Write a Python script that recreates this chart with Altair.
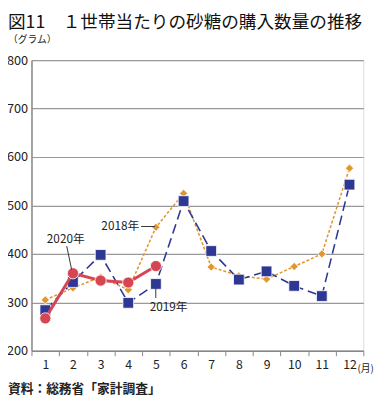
import altair as alt
import pandas as pd

months = [str(m) for m in range(1, 13)]
v2018 = [305, 330, 352, 326, 455, 525, 373, 355, 348, 374, 400, 577]
v2019 = [284, 342, 398, 299, 338, 509, 406, 347, 364, 334, 313, 543]
v2020 = [267, 360, 345, 341, 375]
y_ticks = [200, 300, 400, 500, 600, 700, 800]

rows = []
for s, vals in [("2018年", v2018), ("2019年", v2019), ("2020年", v2020)]:
    for m, v in zip(months, vals):
        rows.append({"month": m, "value": v, "series": s})
df = pd.DataFrame(rows)

FONT = "Noto Sans CJK JP"
W, H = 339, 297

x_enc = alt.X("month:N", sort=months,
              scale=alt.Scale(type="band", paddingInner=0, paddingOuter=0),
              axis=alt.Axis(title=None, labelAngle=0, tickBand="extent", tickSize=5,
                            tickColor="#888888", domainColor="#888888", domainWidth=1.5,
                            labelPadding=3, labelFontSize=12.5, labelColor="#222222",
                            labelFont=FONT, grid=False))
y_enc = alt.Y("value:Q", scale=alt.Scale(domain=[200, 800], nice=False),
              axis=alt.Axis(title=None, values=y_ticks, ticks=False, labelPadding=4,
                            labelFontSize=13, labelColor="#222222", labelFont=FONT,
                            domainColor="#888888", domainWidth=1.5,
                            gridColor="#999999", gridWidth=1.2))

def series_layer(name, color, dash, width, shape, size):
    d = df[df.series == name]
    base = alt.Chart(d).encode(x=x_enc, y=y_enc)
    line = base.mark_line(color=color, strokeDash=dash, strokeWidth=width)
    pts = base.mark_point(shape=shape, filled=True, color=color, size=size,
                          opacity=1, stroke="white", strokeWidth=0.8)
    return line + pts

l18 = series_layer("2018年", "#E0972E", [3, 2], 1.6, "diamond", 70)
l19 = series_layer("2019年", "#2E3894", [10, 5], 1.6, "square", 120)
l20 = series_layer("2020年", "#D54652", [], 3, "circle", 130)

def txt(text, x, y, size=12, align="left", weight="normal", color="#222222"):
    return alt.Chart(pd.DataFrame({"t": [text]})).mark_text(
        align=align, baseline="middle", fontSize=size, font=FONT,
        fontWeight=weight, color=color
    ).encode(x=alt.value(x), y=alt.value(y), text="t:N")

def rule(x1, y1, x2, y2):
    return alt.Chart(pd.DataFrame({"a": [0]})).mark_rule(
        color="#333333", strokeWidth=1
    ).encode(x=alt.value(x1), x2=alt.value(x2), y=alt.value(y1), y2=alt.value(y2))

annots = [
    txt("図11　１世帯当たりの砂糖の購入数量の推移", -24, -38, size=18, weight="normal", color="#111111"),
    txt("（グラム）", -24, -20, size=10),
    txt("資料：総務省「家計調査」", -24, 336, size=13, weight="bold"),
    txt("(月)", 333, 316, size=10),
    txt("2018年", 110, 170, size=12, align="right"),
    rule(112, 170, 126, 170),
    txt("2020年", 35, 183, size=12, align="center"),
    rule(36, 190, 41, 214),
    txt("2019年", 140, 252, size=12, align="center"),
    rule(127, 233, 127, 243),
]

chart = alt.layer(l18, l19, l20, *annots).properties(
    width=W, height=H,
    autosize=alt.AutoSizeParams(type="none"),
    padding={"left": 24, "top": 49, "right": 15, "bottom": 46},
).configure_view(stroke=None).configure(background="white")

chart.save("out.html", embed_options={"renderer": "svg", "actions": False})
